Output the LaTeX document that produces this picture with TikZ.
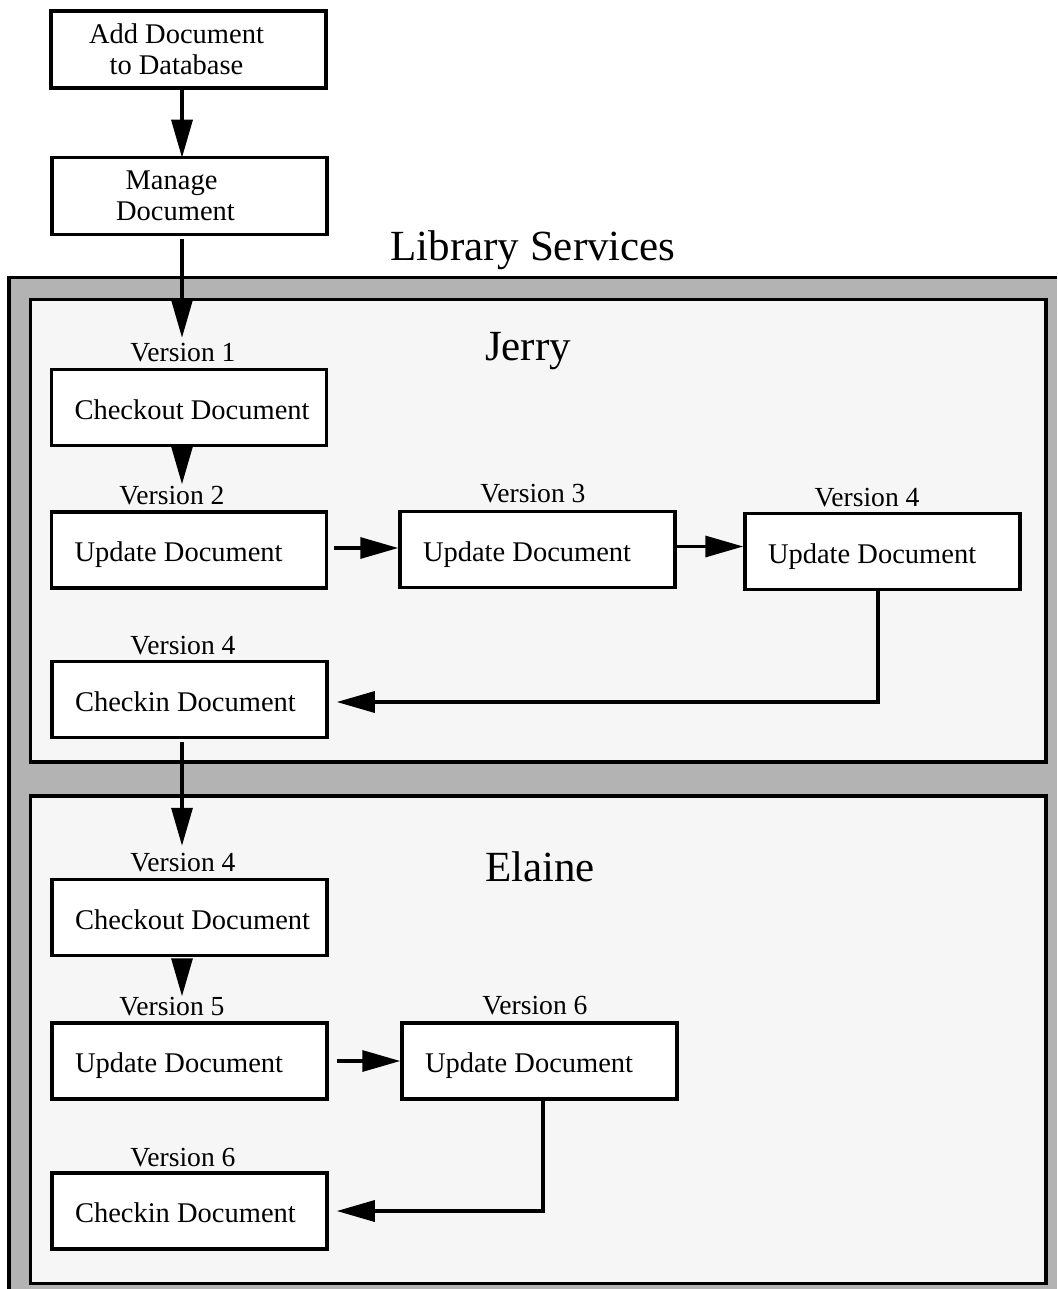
\documentclass[tikz,border=0pt]{standalone}
\usepackage{fontspec}
\setmainfont{Liberation Serif}
\usetikzlibrary{arrows.meta}
\definecolor{framegray}{HTML}{B3B3B3}
\definecolor{lanefill}{HTML}{F6F6F6}
\newcommand{\lt}[1]{\makebox[229pt][l]{#1}}
\tikzset{
  stepbox/.style={draw, line width=3.5pt, fill=white, minimum width=275pt, minimum height=76pt,
    inner xsep=23pt, inner ysep=0pt, text height=23pt, text depth=0pt,
    font=\fontsize{28.5}{32}\selectfont},
  topbox/.style={draw, line width=3.5pt, fill=white, minimum width=275pt, minimum height=77pt,
    inner sep=0pt, align=center, font=\fontsize{28.5}{31.5}\selectfont},
  verlabel/.style={anchor=base, inner sep=0pt, font=\fontsize{27.6}{30}\selectfont},
  title/.style={anchor=base, inner sep=0pt, font=\fontsize{43}{46}\selectfont},
  arr/.style={line width=3.3pt, -{Triangle[length=38pt,width=21pt]}},
  lane/.style={draw, line width=3.5pt, fill=lanefill}
}
\begin{document}
\begin{tikzpicture}[x=1pt,y=-1pt]
\useasboundingbox (0,0) rectangle (1057,1289);
% outer frame
\fill[framegray] (9.3,277.5) rectangle (1057,1289);
\draw[line width=3.7pt] (9.3,1289) -- (9.3,277.5) -- (1057,277.5);
% lanes
\draw[lane] (30.5,299.5) rectangle (1046,762);
\draw[lane] (30.5,796) rectangle (1046,1283.5);
% titles
\node[title] (libtitle) at (533,260) {Library Services};
\node[title] (jerrytitle) at (528,360) {Jerry};
\node[title] (elainetitle) at (540,881) {Elaine};
% top boxes
\node[topbox] (add) at (188.5,49.5) {Add Document\rule{24pt}{0pt}\\to Database\rule{24pt}{0pt}};
\node[topbox] (manage) at (189.5,196) {Manage\rule{36pt}{0pt}\\Document\rule{28pt}{0pt}};
% Jerry
\node[stepbox] (co1) at (189,407.5) {\lt{Checkout Document}};
\node[stepbox] (up1) at (189,550) {\lt{Update Document}};
\node[stepbox] (up2) at (537.5,549.5) {\lt{Update Document}};
\node[stepbox] (up3) at (882.5,551.5) {\lt{Update Document}};
\node[stepbox] (ci1) at (189.5,699.5) {\lt{Checkin Document}};
\node[verlabel] (v1) at (183,361) {Version 1};
\node[verlabel] (v2) at (172,504) {Version 2};
\node[verlabel] (v3) at (533,502) {Version 3};
\node[verlabel] (v4a) at (867,506) {Version 4};
\node[verlabel] (v4b) at (183,654) {Version 4};
% Elaine
\node[stepbox] (co2) at (189.5,917.5) {\lt{Checkout Document}};
\node[stepbox] (up4) at (189.5,1061) {\lt{Update Document}};
\node[stepbox] (up5) at (539.5,1061) {\lt{Update Document}};
\node[stepbox] (ci2) at (189.5,1211) {\lt{Checkin Document}};
\node[verlabel] (v4c) at (183,871) {Version 4};
\node[verlabel] (v5) at (172,1015) {Version 5};
\node[verlabel] (v6a) at (535,1014) {Version 6};
\node[verlabel] (v6b) at (183,1166) {Version 6};
% connector guide coordinates
\coordinate (xcol) at (182,0);
\coordinate (xret1) at (878,0);
\coordinate (xret2) at (543,0);
% vertical arrows
\draw[arr] (add.south -| xcol) -- ([yshift=-2pt]manage.north -| xcol);
\draw[arr, shorten <=3pt, shorten >=30pt] (manage.south -| xcol) -- (co1.north -| xcol);
\draw[arr, shorten >=26pt] (co1.south -| xcol) -- (up1.north -| xcol);
\draw[arr, shorten <=3pt, shorten >=32pt] (ci1.south -| xcol) -- (co2.north -| xcol);
\draw[arr, shorten <=3pt, shorten >=25pt] (co2.south -| xcol) -- (up4.north -| xcol);
% horizontal arrows
\draw[arr, shorten <=6pt] ([yshift=2pt]up1.east) -- ([yshift=2pt]up1.east -| up2.west);
\draw[arr] ([xshift=-2pt,yshift=3pt]up2.east) -- ([yshift=3pt]up2.east -| up3.west);
\draw[arr, shorten <=8pt] (up4.east) -- (up5.west);
% return connectors
\draw[arr, shorten >=8pt] (up3.south -| xret1) |- ([yshift=-2.5pt]ci1.east);
\draw[arr, shorten >=8pt] (up5.south -| xret2) |- (ci2.east);
\end{tikzpicture}
\end{document}
